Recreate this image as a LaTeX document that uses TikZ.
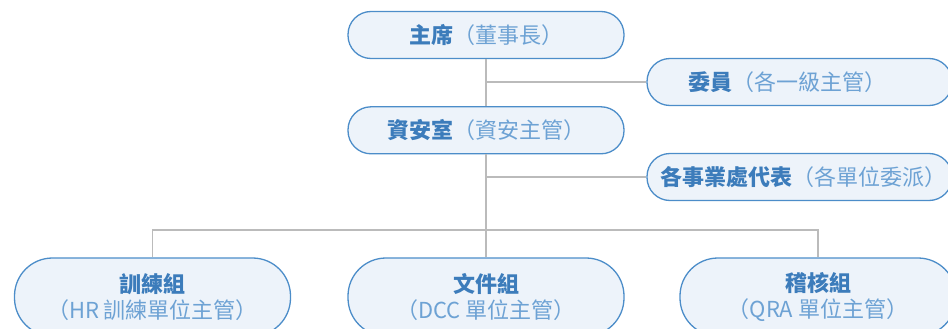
\documentclass[tikz,border=0pt]{standalone}
\usepackage{fontspec}
\setmainfont{Noto Sans CJK TC}
\usetikzlibrary{positioning,calc}
\definecolor{edgeblue}{HTML}{4C8DC9}
\definecolor{boxfill}{HTML}{EDF3FA}
\definecolor{titleblue}{HTML}{3C7CBB}
\definecolor{subblue}{HTML}{6DA2D4}
\definecolor{wire}{HTML}{BBBBBB}
\newcommand{\orgname}[2]{{\bfseries\color{titleblue}#1}{\color{subblue}#2}}

\begin{document}
\begin{tikzpicture}[
  x = 1pt,
  y = -1pt,
  unit/.style = {
    draw = edgeblue,
    line width = 1.3pt,
    fill = boxfill,
    rectangle,
    rounded corners = 23pt,
    minimum width = 276pt,
    minimum height = 47pt,
    inner sep = 2pt,
    font = \fontsize{22}{26}\selectfont,
  },
  sideunit/.style = {
    unit,
    minimum width = 305pt,
  },
  groupunit/.style = {
    unit,
    align = center,
    rounded corners = 38pt,
    minimum height = 78pt,
  },
  wire/.style = {
    draw = wire,
    line width = 1.2pt,
  },
]

  \useasboundingbox (0,0) rectangle (948,329);

  \node[unit] (chair) at (486,35) {\orgname{主席}{（董事長）}};
  \node[unit] (office) [below=47pt of chair] {\orgname{資安室}{（資安主管）}};

  \node[sideunit] (member) at (799.5,82) {\orgname{委員}{（各一級主管）}\kern24pt};
  \node[sideunit] (deputy) at (799.5,177) {\hspace{8pt}\orgname{各事業處代表}{（各單位委派）}};

  \node[groupunit] (training) at (152.5,297) {\orgname{訓練組}{}\\{\color{subblue}（HR 訓練單位主管）}};
  \node[groupunit] (document) at (486,297) {\orgname{文件組}{}\\{\color{subblue}（DCC 單位主管）}};
  \node[groupunit] (audit) at (818,297) {\orgname{稽核組}{}\\{\color{subblue}（QRA 單位主管）}};

  \coordinate (j1) at (chair.south |- member.west);
  \coordinate (j2) at (office.south |- deputy.west);
  \coordinate (bus) at (486,230);

  \path[wire] (chair.south) -- (office.north);
  \path[wire] (j1) -- (member.west);
  \path[wire] (office.south) -- (document.north);
  \path[wire] (j2) -- (deputy.west);
  \path[wire] (bus) -| (training.north);
  \path[wire] (bus) -| (audit.north);

\end{tikzpicture}
\end{document}
